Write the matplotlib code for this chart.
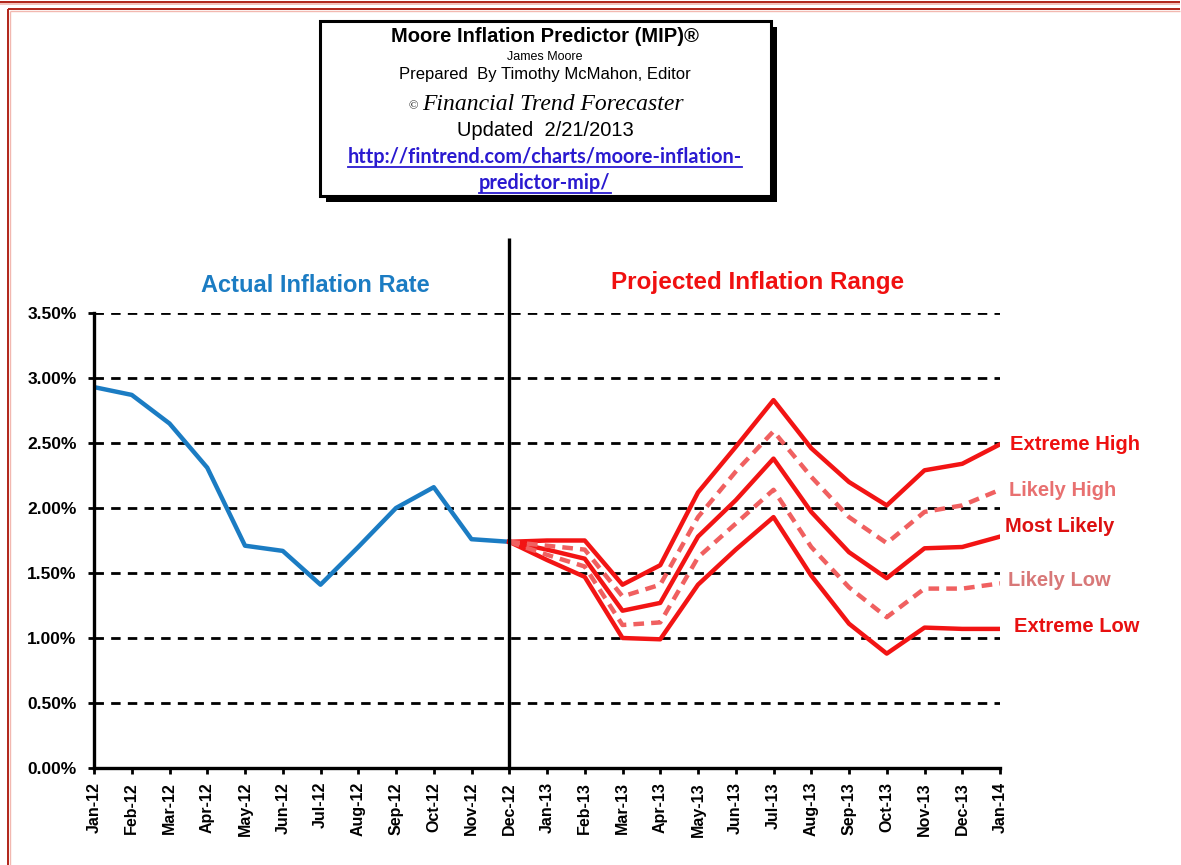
import matplotlib
matplotlib.use("Agg")
import matplotlib.pyplot as plt
from matplotlib.patches import Rectangle
from matplotlib.lines import Line2D

# ---------------- data ----------------
months = ["Jan-12", "Feb-12", "Mar-12", "Apr-12", "May-12", "Jun-12", "Jul-12",
          "Aug-12", "Sep-12", "Oct-12", "Nov-12", "Dec-12",
          "Jan-13", "Feb-13", "Mar-13", "Apr-13", "May-13", "Jun-13", "Jul-13",
          "Aug-13", "Sep-13", "Oct-13", "Nov-13", "Dec-13", "Jan-14"]
actual = [2.93, 2.87, 2.65, 2.31, 1.71, 1.67, 1.41, 1.70, 2.00, 2.16, 1.76, 1.74]
# projections start at Dec-12
extreme_high = [1.74, 1.75, 1.75, 1.41, 1.56, 2.12, 2.47, 2.83, 2.46, 2.20, 2.02, 2.29, 2.34, 2.49]
likely_high = [1.74, 1.71, 1.68, 1.32, 1.41, 1.93, 2.28, 2.59, 2.24, 1.93, 1.73, 1.97, 2.02, 2.14]
most_likely = [1.74, 1.68, 1.61, 1.21, 1.27, 1.78, 2.06, 2.38, 1.97, 1.66, 1.46, 1.69, 1.70, 1.78]
likely_low = [1.74, 1.64, 1.55, 1.10, 1.12, 1.62, 1.88, 2.14, 1.70, 1.39, 1.16, 1.38, 1.38, 1.42]
extreme_low = [1.74, 1.60, 1.47, 1.00, 0.99, 1.41, 1.68, 1.93, 1.48, 1.11, 0.88, 1.08, 1.07, 1.07]
yticks = [0.0, 0.5, 1.0, 1.5, 2.0, 2.5, 3.0, 3.5]
ytick_labels = ["0.00%", "0.50%", "1.00%", "1.50%", "2.00%", "2.50%", "3.00%", "3.50%"]
series_labels = ["Extreme High", "Likely High", "Most Likely", "Likely Low", "Extreme Low"]

plt.rcParams['font.family'] = ['Liberation Sans', 'DejaVu Sans']

W, H = 1181, 865
fig = plt.figure(figsize=(W / 100, H / 100), dpi=100, facecolor="white")

# main axes: Jan-12 at x=94, Jan-14 at x=1000, 0% at y=768, 3.5% at y=313
x0, x1, yb, yt = 94, 1000, 768, 313
ax = fig.add_axes([x0 / W, (H - yb) / H, (x1 - x0) / W, (yb - yt) / H])
ax.set_xlim(0, len(months) - 1)
ax.set_ylim(0, 3.5)
ax.set_facecolor("none")

for s in ["top", "right"]:
    ax.spines[s].set_visible(False)
for s in ["left", "bottom"]:
    ax.spines[s].set_linewidth(2.4)
    ax.spines[s].set_color("black")
    ax.spines[s].set_zorder(6)

ax.set_yticks(yticks)
ax.set_yticklabels(ytick_labels, fontsize=12.5, fontweight="bold")
ax.set_xticks(range(len(months)))
ax.set_xticklabels(months, rotation=90, fontsize=11.5, fontweight="bold")
ax.tick_params(axis="y", direction="out", length=4.5, width=2, pad=8)
ax.tick_params(axis="x", direction="out", length=4, width=2, pad=6)

ax.grid(axis="y", color="black", linewidth=2.0, linestyle=(0, (3.4, 2.6)))
ax.grid(axis="x", visible=False)
ax.set_axisbelow(True)

# vertical divider at Dec-12
dec_idx = months.index("Dec-12")
ax.plot([dec_idx, dec_idx], [0, 4.08], color="black", lw=2.4, clip_on=False, zorder=5,
        solid_capstyle="butt")

# actual line
ax.plot(range(len(actual)), actual, color="#1b7cc3", lw=3.2, zorder=4)

px = list(range(dec_idx, len(months)))
red = "#f21414"
ax.plot(px, extreme_high, color=red, lw=3.2, zorder=4)
ax.plot(px, most_likely, color=red, lw=3.2, zorder=4)
ax.plot(px, extreme_low, color=red, lw=3.2, zorder=4)
ax.plot(px, likely_high, color="#f06060", lw=3.2, zorder=4.5, linestyle=(0, (2.4, 1.6)))
ax.plot(px, likely_low, color="#f06060", lw=3.2, zorder=4.5, linestyle=(0, (2.4, 1.6)))

# ---------------- overlay in pixel coordinates ----------------
ov = fig.add_axes([0, 0, 1, 1], zorder=10)
ov.set_xlim(0, W)
ov.set_ylim(H, 0)
ov.axis("off")
ov.set_facecolor("none")

# page border (top and left only)
ov.plot([0, W - 1], [1.7, 1.7], color="#b02418", lw=1.4, solid_capstyle="butt")
ov.plot([0, W - 1], [4.0, 4.0], color="#f2b8b0", lw=1.2, solid_capstyle="butt")
ov.plot([8.3, W - 1], [9.3, 9.3], color="#b02418", lw=1.4, solid_capstyle="butt")
ov.plot([10, W - 1], [10.8, 10.8], color="#f2b8b0", lw=1.0, solid_capstyle="butt")
ov.plot([8.3, 8.3], [9.3, H], color="#b02418", lw=1.4, solid_capstyle="butt")
ov.plot([10, 10], [10.8, H], color="#f2b8b0", lw=1.0, solid_capstyle="butt")

# section titles
ov.text(315, 286, "Actual Inflation Rate", color="#1b7cc3", fontsize=17, fontweight="bold",
        ha="center", va="center")
ov.text(758, 283, "Projected Inflation Range", color="#f01010", fontsize=17.5, fontweight="bold",
        ha="center", va="center")

# series labels
lab_pos = [(1010, 445), (1009, 490), (1005, 527), (1008, 580), (1014, 627)]
lab_col = ["#ee1010", "#e87070", "#dd1010", "#d87878", "#e81010"]
for name, (lx, ly), c in zip(series_labels, lab_pos, lab_col):
    ov.text(lx, ly, name, color=c, fontsize=14.5, fontweight="bold", ha="left", va="center")

# title box with shadow
bx0, by0, bx1, by1 = 320, 21, 771, 196
ov.add_patch(Rectangle((bx0 + 6, by0 + 6), bx1 - bx0, by1 - by0, facecolor="black",
                       edgecolor="black", lw=0, zorder=1))
ov.add_patch(Rectangle((bx0, by0), bx1 - bx0, by1 - by0, facecolor="white",
                       edgecolor="black", lw=2.2, zorder=2))

cx = 545
ov.text(cx, 37, "Moore Inflation Predictor (MIP)®", fontsize=14.5, fontweight="bold",
        ha="center", va="center", zorder=3)
ov.text(cx, 57, "James Moore", fontsize=9, ha="center", va="center", zorder=3)
ov.text(cx, 75, "Prepared  By Timothy McMahon, Editor", fontsize=12, ha="center",
        va="center", zorder=3)
ov.text(413, 106, "©", fontsize=9, ha="center", va="center", zorder=3,
        family=["Liberation Serif", "DejaVu Serif"])
ov.text(553, 104, "Financial Trend Forecaster", fontsize=17, style="italic",
        ha="center", va="center", zorder=3, family=["Liberation Serif", "DejaVu Serif"])
ov.text(cx, 131, "Updated  2/21/2013", fontsize=14.5, ha="center", va="center", zorder=3)

link_col = "#2a1ad0"
t1 = ov.text(545, 157, "http://fintrend.com/charts/moore-inflation-", fontsize=14.3,
             fontweight="bold", color=link_col, ha="center", va="center", zorder=3,
             family=["Lato", "DejaVu Sans"])
t2 = ov.text(545, 183, "predictor-mip/", fontsize=14.3, fontweight="bold", color=link_col,
             ha="center", va="center", zorder=3, family=["Lato", "DejaVu Sans"])

fig.canvas.draw()
r = fig.canvas.get_renderer()
for t, uy in [(t1, 167), (t2, 193)]:
    bb = t.get_window_extent(renderer=r)
    ov.add_line(Line2D([bb.x0, bb.x1], [uy, uy], color=link_col, lw=1.3, zorder=3))

fig.savefig("out.png", dpi=100, facecolor="white")
